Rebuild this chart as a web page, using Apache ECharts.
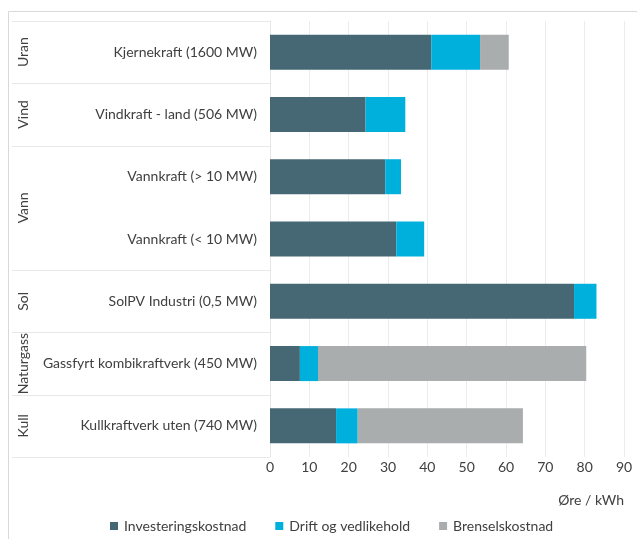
<!DOCTYPE html>
<html>
<head>
<meta charset="utf-8">
<script src="https://cdn.jsdelivr.net/npm/echarts@6/dist/echarts.min.js"></script>
<style>
html,body{margin:0;padding:0;background:#fff;}
#c{width:637px;height:539px;}
</style>
</head>
<body>
<div id="c"></div>
<script>
const categories = ['Kjernekraft (1600 MW)', 'Vindkraft - land (506 MW)', 'Vannkraft (> 10 MW)', 'Vannkraft (< 10 MW)', 'SolPV Industri (0,5 MW)', 'Gassfyrt kombikraftverk (450 MW)', 'Kullkraftverk uten (740 MW)'];
const investering = [41.0, 24.3, 29.3, 32.1, 77.3, 7.6, 16.8];
const drift = [12.4, 10.1, 4.0, 7.1, 5.7, 4.6, 5.5];
const brensel = [7.3, null, null, null, null, 68.2, 42.0];
const groupNames = ['Uran', 'Vind', 'Vann', 'Sol', 'Naturgass', 'Kull'];
const groupStart = [0, 1, 2, 4, 5, 6];
const groupEnd = [0, 1, 3, 4, 5, 6];
const xTicks = [0, 10, 20, 30, 40, 50, 60, 70, 80, 90];

const FONT = 'Lato';
const FS = 14;
const TXT = '#404040';
const chart = echarts.init(document.getElementById('c'), null, {renderer: 'canvas'});
const option = {
  animation: false,
  textStyle: {fontFamily: FONT},
  grid: {left: 270, right: 13, top: 21, bottom: 82, containLabel: false},
  legend: {
    left: 105, top: 514, itemWidth: 8, itemHeight: 8, itemGap: 29, icon: 'rect',
    textStyle: {fontFamily: FONT, fontSize: FS, color: TXT, padding: [0, 0, 0, 1]},
    data: ['Investeringskostnad', 'Drift og vedlikehold', 'Brenselskostnad']
  },
  xAxis: {
    type: 'value', min: xTicks[0], max: xTicks[xTicks.length - 1], interval: 10,
    axisLine: {show: false}, axisTick: {show: false},
    axisLabel: {fontFamily: FONT, fontSize: FS, color: TXT, margin: 3},
    splitLine: {lineStyle: {color: '#ececec', width: 1}},
    name: 'Øre / kWh', nameLocation: 'end', nameGap: 0,
    nameTextStyle: {fontFamily: FONT, fontSize: FS, color: TXT, align: 'right', verticalAlign: 'top', padding: [36, 0, 0, 0]}
  },
  yAxis: {
    type: 'category', inverse: true, data: categories,
    axisLine: {show: true, lineStyle: {color: '#e6e6e6'}},
    axisTick: {show: false},
    axisLabel: {fontFamily: FONT, fontSize: FS, color: TXT, margin: 13}
  },
  series: [
    {name: 'Investeringskostnad', type: 'bar', stack: 's', barWidth: 35, data: investering, itemStyle: {color: '#466875'}},
    {name: 'Drift og vedlikehold', type: 'bar', stack: 's', barWidth: 35, data: drift, itemStyle: {color: '#00b0dc'}},
    {name: 'Brenselskostnad', type: 'bar', stack: 's', barWidth: 35, data: brensel, itemStyle: {color: '#a9adad'}}
  ]
};
chart.setOption(option);

const y0 = chart.convertToPixel({yAxisIndex: 0}, categories[0]);
const y1 = chart.convertToPixel({yAxisIndex: 0}, categories[1]);
const half = (y1 - y0) / 2;
const xLeft = 12;
const xRight = chart.convertToPixel({xAxisIndex: 0}, 0);
const graphics = [
  {type: 'rect', shape: {x: 8.5, y: 11.5, width: 700, height: 600}, style: {fill: 'none', stroke: '#d9d9d9', lineWidth: 1}, silent: true}
];
for (let g = 0; g < groupNames.length; g++) {
  const top = chart.convertToPixel({yAxisIndex: 0}, categories[groupStart[g]]) - half;
  const bot = chart.convertToPixel({yAxisIndex: 0}, categories[groupEnd[g]]) + half;
  graphics.push({type: 'line', shape: {x1: xLeft, y1: Math.round(top) + 0.5, x2: xRight, y2: Math.round(top) + 0.5}, style: {stroke: '#e8e8e8', lineWidth: 1}, silent: true});
  if (g === groupNames.length - 1) {
    graphics.push({type: 'line', shape: {x1: xLeft, y1: Math.round(bot) + 0.5, x2: xRight, y2: Math.round(bot) + 0.5}, style: {stroke: '#e8e8e8', lineWidth: 1}, silent: true});
  }
  graphics.push({
    type: 'text', x: 23, y: (top + bot) / 2, rotation: Math.PI / 2,
    style: {text: groupNames[g], fontFamily: FONT, fontSize: FS, fill: TXT, align: 'center', verticalAlign: 'middle'},
    silent: true
  });
}
chart.setOption({graphic: graphics});
</script>
</body>
</html>
